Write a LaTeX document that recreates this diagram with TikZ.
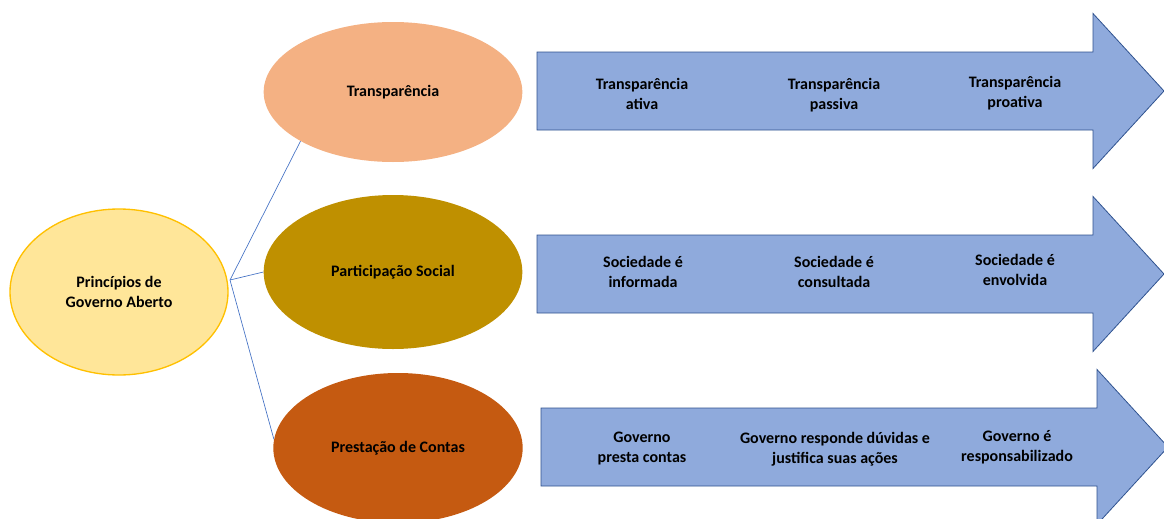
\documentclass[tikz,border=0pt]{standalone}
\usepackage{fontspec}
\setmainfont{Carlito}
\usepackage{tikz}
\usetikzlibrary{shapes.geometric}
\definecolor{raizfill}{HTML}{FFE699}
\definecolor{raizdraw}{HTML}{FFC000}
\definecolor{transp}{HTML}{F4B183}
\definecolor{partic}{HTML}{BF9000}
\definecolor{prest}{HTML}{C55A11}
\definecolor{setafill}{HTML}{8FAADC}
\definecolor{setadraw}{HTML}{2F528F}
\definecolor{linha}{HTML}{4472C4}
\tikzset{
  elipse/.style={ellipse,inner sep=0pt,font=\fontsize{12}{15}\selectfont\bfseries,align=center},
  seta/.style={fill=setafill,draw=setadraw,line width=0.6pt,line join=miter},
  rotulo/.style={font=\fontsize{12}{15}\selectfont\bfseries,align=center,inner sep=0pt},
  ramo/.style={draw=linha,line width=0.5pt}
}

\begin{document}
\begin{tikzpicture}[x=0.75pt,y=-0.75pt]
  \useasboundingbox (0,0) rectangle (1164,518);
  % setas
  \foreach \x/\y in {537/91,537/274,541/447}
    \draw[seta] (\x,\y-39) -- ++(556,0) -- ++(0,-38.5) -- ++(71,77.5)
      -- ++(-71,77.5) -- ++(0,-38.5) -- ++(-556,0) -- cycle;

  % elipses
  \node[elipse,fill=raizfill,draw=raizdraw,line width=1pt,minimum width=163.5pt,minimum height=124.5pt] (raiz) at (119,292) {Princípios de\\Governo Aberto};
  \node[elipse,fill=transp,minimum width=194pt,minimum height=105pt] (trans) at (393,92) {Transparência};
  \node[elipse,fill=partic,minimum width=194pt,minimum height=115.5pt] (part) at (393,272) {Participação Social};
  \node[elipse,fill=prest,minimum width=187pt,minimum height=112.5pt] (prest) at (398,448) {Prestação de Contas};

  \coordinate (hub) at (230,280);
  \draw[ramo] (hub) -- (trans.208);
  \draw[ramo] (hub) -- (part.west);
  \draw[ramo] (hub) -- (prest.176);

  % rotulos das setas
  \node[rotulo] (t1) at (642,94) {Transparência\\ativa};
  \node[rotulo] (t2) at (834,95) {Transparência\\passiva};
  \node[rotulo] (t3) at (1015,93) {Transparência\\proativa};
  \node[rotulo] (s1) at (643,272) {Sociedade é\\informada};
  \node[rotulo] (s2) at (834,272) {Sociedade é\\consultada};
  \node[rotulo] (s3) at (1015,270) {Sociedade é\\envolvida};
  \node[rotulo] (g1) at (642,449) {Governo\\presta contas};
  \node[rotulo] (g2) at (835,449) {Governo responde dúvidas e\\justifica suas ações};
  \node[rotulo] (g3) at (1017,447) {Governo é\\responsabilizado};
\end{tikzpicture}
\end{document}
